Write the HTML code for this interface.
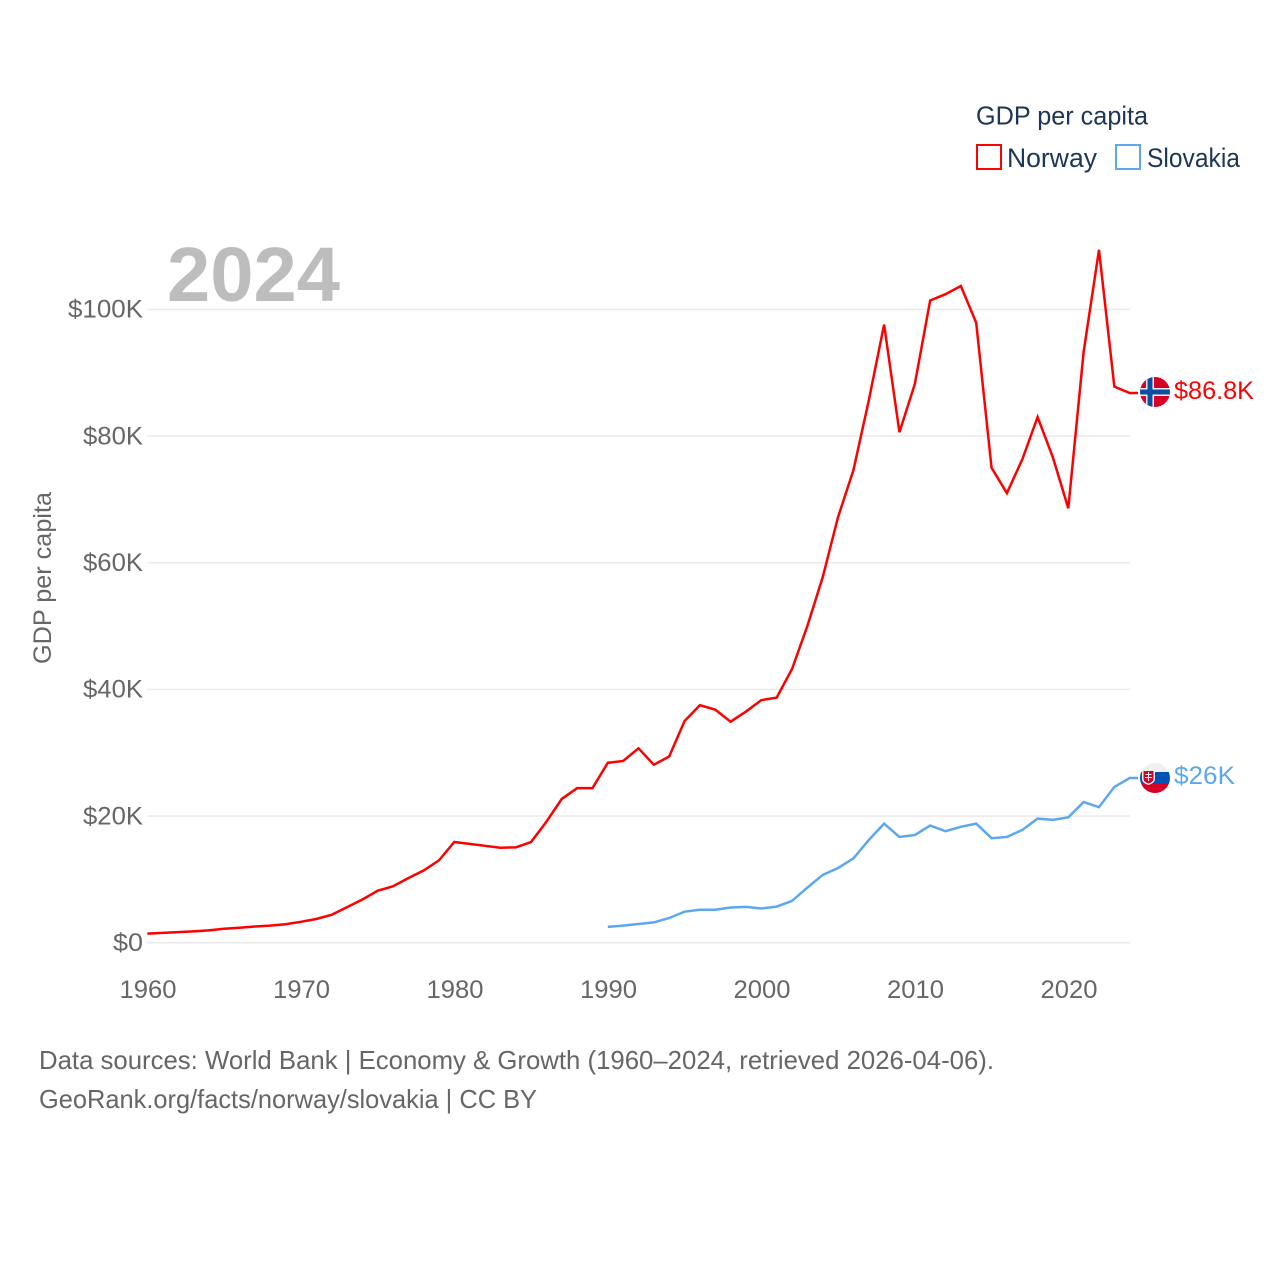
<!DOCTYPE html>
<html lang="en">
<head>
<meta charset="utf-8">
<title>GDP per capita: Norway and Slovakia</title>
<style>
  html, body { margin: 0; padding: 0; background: #fff; }
  svg { display: block; }
  text { font-family: "Liberation Sans", "DejaVu Sans", sans-serif; }
</style>
</head>
<body>
<svg id="chart" xmlns="http://www.w3.org/2000/svg" width="1280" height="1280" viewBox="0 0 1280 1280">
  <rect width="1280" height="1280" fill="#ffffff"/>
  <defs>
    <clipPath id="flag-clip-no"><circle cx="1155" cy="392" r="15"/></clipPath>
    <clipPath id="flag-clip-sk"><circle cx="1155" cy="778" r="15"/></clipPath>
  </defs>

  <g id="grid"></g>
  <g id="y-axis"></g>
  <g id="x-axis"></g>

  <text x="167" y="301" font-size="77" font-weight="700" fill="#bdbdbd" textLength="173" lengthAdjust="spacingAndGlyphs">2024</text>

  <g id="series"></g>

  <text transform="translate(51 664) rotate(-90)" font-size="25" fill="#666666" textLength="172" lengthAdjust="spacingAndGlyphs">GDP per capita</text>

  <g>
    <text x="976" y="124.500" font-size="26" fill="#1d3557" textLength="172" lengthAdjust="spacingAndGlyphs">GDP per capita</text>
    <rect x="977" y="145" width="24" height="24" fill="none" stroke="#ff0000" stroke-width="2"/>
    <text x="1007" y="167" font-size="27" fill="#1d3557" textLength="90" lengthAdjust="spacingAndGlyphs">Norway</text>
    <rect x="1116" y="145" width="24" height="24" fill="none" stroke="#5ca8ef" stroke-width="2"/>
    <text x="1147" y="167" font-size="27" fill="#1d3557" textLength="93" lengthAdjust="spacingAndGlyphs">Slovakia</text>
  </g>

  <g clip-path="url(#flag-clip-no)">
    <rect x="1140" y="377" width="30" height="30" fill="#d80027"/>
    <rect x="1146" y="377" width="8" height="30" fill="#f0f0f0"/>
    <rect x="1140" y="388" width="30" height="8" fill="#f0f0f0"/>
    <rect x="1147.500" y="377" width="5" height="30" fill="#0b4ea2"/>
    <rect x="1140" y="389.500" width="30" height="5" fill="#0b4ea2"/>
  </g>
  <g clip-path="url(#flag-clip-sk)">
    <rect x="1140" y="763" width="30" height="10" fill="#f0f0f0"/>
    <rect x="1140" y="772" width="30" height="11" fill="#0052b4"/>
    <rect x="1140" y="783" width="30" height="10" fill="#d80027"/>
    <path d="M1142 770h13v9q0 4-6.500 6q-6.500-2-6.500-6z" fill="#f0f0f0"/>
    <path d="M1143.500 771h10v8q0 3-5 4.500q-5-1.500-5-4.500z" fill="#d80027"/>
    <path d="M1148 772h1v2h2.500v1h-2.500v2h3v1h-3v3h-1v-3h-3v-1h3v-2h-2.500v-1h2.500z" fill="#f0f0f0"/>
  </g>

  <text id="end-label-norway" x="1174" y="399" font-size="25" fill="#ff0000" textLength="80" lengthAdjust="spacingAndGlyphs"></text>
  <text id="end-label-slovakia" x="1174" y="784" font-size="25" fill="#5ca8ef" textLength="61" lengthAdjust="spacingAndGlyphs"></text>

  <g>
    <text x="39" y="1069" font-size="26" fill="#666666" textLength="955" lengthAdjust="spacingAndGlyphs">Data sources: World Bank | Economy &amp; Growth (1960–2024, retrieved 2026-04-06).</text>
    <text x="39" y="1108" font-size="26" fill="#666666" textLength="498" lengthAdjust="spacingAndGlyphs">GeoRank.org/facts/norway/slovakia | CC BY</text>
  </g>
</svg>

<script>
const yTicks = [0, 20, 40, 60, 80, 100];
const xTicks = [1960, 1970, 1980, 1990, 2000, 2010, 2020];
const norwayStartYear = 1960;
const norwayValues = [1.44, 1.56, 1.67, 1.79, 1.95, 2.2, 2.36, 2.55, 2.7, 2.92,
  3.3, 3.74, 4.4, 5.6, 6.8, 8.2, 8.9, 10.2, 11.4, 13,
  15.9, 15.6, 15.3, 15.0, 15.05, 15.9, 19.1, 22.7, 24.4, 24.4,
  28.4, 28.7, 30.7, 28.1, 29.4, 35, 37.5, 36.8, 34.9, 36.5,
  38.3, 38.7, 43.2, 50, 57.7, 67.2, 74.6, 85.6, 97.6, 80.6,
  88.2, 101.4, 102.4, 103.7, 97.9, 75, 71, 76.3, 83, 76.6,
  68.6, 93.3, 109.4, 87.8, 86.8];
const slovakiaStartYear = 1990;
const slovakiaValues = [2.5, 2.7, 2.95, 3.2, 3.9, 4.9, 5.2, 5.2, 5.55, 5.65,
  5.4, 5.7, 6.6, 8.7, 10.7, 11.8, 13.3, 16.2, 18.8, 16.7,
  17, 18.5, 17.6, 18.3, 18.8, 16.5, 16.7, 17.8, 19.6, 19.4,
  19.8, 22.2, 21.4, 24.6, 26];
const norwayEndLabel = "$86.8K";
const slovakiaEndLabel = "$26K";

const NS = "http://www.w3.org/2000/svg";
const PLOT_LEFT = 147.300;
const PLOT_RIGHT = 1130;
const STUB_END = 1138;

function xScale(year) {
  return PLOT_LEFT + (year - 1960) * 15.35;
}
function yScale(value) {
  return 942.7 - value * 6.333;
}
function yTickText(value) {
  return value === 0 ? "$0" : "$" + value + "K";
}
function linePath(startYear, values) {
  const body = values.map(function (v, i) {
    return (i ? "L" : "M") + xScale(startYear + i).toFixed(2) + " " + yScale(v).toFixed(2);
  }).join("");
  return body + "L" + STUB_END + " " + yScale(values[values.length - 1]).toFixed(2);
}

const gridGroup = document.getElementById("grid");
const yAxisGroup = document.getElementById("y-axis");
const xAxisGroup = document.getElementById("x-axis");
const seriesGroup = document.getElementById("series");

yTicks.forEach(function (tick) {
  const line = document.createElementNS(NS, "line");
  
  
  line.setAttribute("x1", PLOT_LEFT);
  line.setAttribute("x2", PLOT_RIGHT);
  line.setAttribute("y1", yScale(tick));
  line.setAttribute("y2", yScale(tick));
  line.setAttribute("stroke", "#ebebeb");
  line.setAttribute("stroke-width", "1.6");
  gridGroup.appendChild(line);

  const label = document.createElementNS(NS, "text");
  
  
  const str = yTickText(tick);
  label.textContent = str;
  label.setAttribute("x", 143);
  label.setAttribute("y", yScale(tick) + 8.3);
  label.setAttribute("text-anchor", "end");
  label.setAttribute("font-size", "25");
  label.setAttribute("fill", "#666666");
  label.setAttribute("textLength", str.length * 15);
  label.setAttribute("lengthAdjust", "spacingAndGlyphs");
  yAxisGroup.appendChild(label);
});

xTicks.forEach(function (tick) {
  const label = document.createElementNS(NS, "text");
  
  
  label.textContent = String(tick);
  label.setAttribute("x", xScale(tick) + 0.7);
  label.setAttribute("y", 998);
  label.setAttribute("text-anchor", "middle");
  label.setAttribute("font-size", "25");
  label.setAttribute("fill", "#666666");
  label.setAttribute("textLength", "57");
  label.setAttribute("lengthAdjust", "spacingAndGlyphs");
  xAxisGroup.appendChild(label);
});

const slovakiaLine = document.createElementNS(NS, "path");


slovakiaLine.setAttribute("d", linePath(slovakiaStartYear, slovakiaValues));
slovakiaLine.setAttribute("fill", "none");
slovakiaLine.setAttribute("stroke", "#5ca8ef");
slovakiaLine.setAttribute("stroke-width", "2.5");
seriesGroup.appendChild(slovakiaLine);

const norwayLine = document.createElementNS(NS, "path");


norwayLine.setAttribute("d", linePath(norwayStartYear, norwayValues));
norwayLine.setAttribute("fill", "none");
norwayLine.setAttribute("stroke", "#ff0000");
norwayLine.setAttribute("stroke-width", "2.5");
seriesGroup.appendChild(norwayLine);

document.getElementById("end-label-norway").textContent = norwayEndLabel;
document.getElementById("end-label-slovakia").textContent = slovakiaEndLabel;
</script>
</body>
</html>
